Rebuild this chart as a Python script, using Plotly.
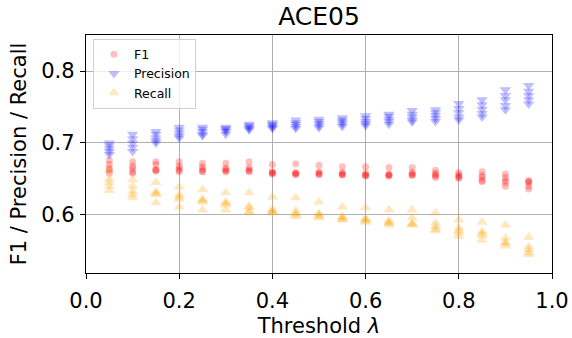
import plotly.graph_objects as go

thresholds = [0.05, 0.10, 0.15, 0.20, 0.25, 0.30, 0.35, 0.40, 0.45, 0.50,
              0.55, 0.60, 0.65, 0.70, 0.75, 0.80, 0.85, 0.90, 0.95]

# five runs per threshold
f1_runs = [
    [0.676, 0.670, 0.665, 0.662, 0.658],
    [0.674, 0.668, 0.665, 0.660, 0.658],
    [0.674, 0.670, 0.663, 0.662, 0.661],
    [0.674, 0.668, 0.665, 0.662, 0.660],
    [0.672, 0.667, 0.664, 0.661, 0.660],
    [0.672, 0.665, 0.663, 0.661, 0.660],
    [0.674, 0.666, 0.663, 0.661, 0.660],
    [0.670, 0.660, 0.659, 0.658, 0.657],
    [0.671, 0.659, 0.658, 0.657, 0.656],
    [0.669, 0.660, 0.658, 0.657, 0.656],
    [0.667, 0.659, 0.657, 0.656, 0.656],
    [0.667, 0.658, 0.656, 0.655, 0.654],
    [0.666, 0.657, 0.656, 0.655, 0.654],
    [0.666, 0.659, 0.657, 0.656, 0.655],
    [0.662, 0.658, 0.656, 0.654, 0.652],
    [0.659, 0.656, 0.654, 0.652, 0.651],
    [0.660, 0.655, 0.652, 0.648, 0.646],
    [0.657, 0.652, 0.648, 0.645, 0.640],
    [0.648, 0.646, 0.645, 0.640, 0.636],
]

precision_runs = [
    [0.700, 0.696, 0.692, 0.688, 0.684],
    [0.712, 0.706, 0.700, 0.694, 0.688],
    [0.716, 0.712, 0.707, 0.703, 0.700],
    [0.722, 0.718, 0.714, 0.710, 0.707],
    [0.722, 0.719, 0.716, 0.712, 0.710],
    [0.722, 0.720, 0.718, 0.716, 0.712],
    [0.726, 0.724, 0.722, 0.720, 0.718],
    [0.728, 0.726, 0.724, 0.722, 0.720],
    [0.732, 0.728, 0.726, 0.723, 0.720],
    [0.733, 0.730, 0.727, 0.724, 0.721],
    [0.735, 0.732, 0.729, 0.726, 0.723],
    [0.738, 0.734, 0.730, 0.727, 0.724],
    [0.740, 0.737, 0.733, 0.730, 0.726],
    [0.745, 0.740, 0.736, 0.732, 0.729],
    [0.746, 0.742, 0.738, 0.734, 0.730],
    [0.755, 0.748, 0.742, 0.736, 0.732],
    [0.760, 0.753, 0.747, 0.741, 0.736],
    [0.774, 0.766, 0.760, 0.752, 0.746],
    [0.780, 0.772, 0.766, 0.760, 0.754],
]

recall_runs = [
    [0.662, 0.650, 0.645, 0.640, 0.634],
    [0.649, 0.640, 0.633, 0.628, 0.624],
    [0.645, 0.632, 0.630, 0.628, 0.617],
    [0.639, 0.628, 0.625, 0.622, 0.611],
    [0.635, 0.622, 0.620, 0.618, 0.607],
    [0.631, 0.618, 0.616, 0.614, 0.607],
    [0.631, 0.612, 0.610, 0.605, 0.603],
    [0.625, 0.608, 0.605, 0.604, 0.603],
    [0.624, 0.606, 0.602, 0.600, 0.598],
    [0.618, 0.602, 0.600, 0.598, 0.596],
    [0.611, 0.598, 0.596, 0.594, 0.593],
    [0.610, 0.595, 0.593, 0.592, 0.590],
    [0.607, 0.592, 0.590, 0.588, 0.586],
    [0.607, 0.596, 0.588, 0.587, 0.586],
    [0.603, 0.589, 0.584, 0.580, 0.578],
    [0.593, 0.582, 0.578, 0.575, 0.570],
    [0.590, 0.577, 0.574, 0.571, 0.565],
    [0.586, 0.568, 0.562, 0.560, 0.557],
    [0.569, 0.556, 0.552, 0.548, 0.545],
]

x_ticks = [0.0, 0.2, 0.4, 0.6, 0.8, 1.0]
y_ticks = [0.6, 0.7, 0.8]


def flatten(runs):
    xs, ys = [], []
    for t, vals in zip(thresholds, runs):
        for v in vals:
            xs.append(t)
            ys.append(v)
    return xs, ys


fig = go.Figure()
series = [
    ("F1", f1_runs, "circle", "red", 7),
    ("Precision", precision_runs, "triangle-down", "blue", 10),
    ("Recall", recall_runs, "triangle-up", "orange", 10),
]
for name, runs, sym, col, sz in series:
    xs, ys = flatten(runs)
    fig.add_trace(go.Scatter(
        x=xs, y=ys, mode="markers", name=name,
        marker=dict(symbol=sym, color=col, size=sz, opacity=0.25,
                    line=dict(width=0)),
    ))

axis_common = dict(
    showline=True, linecolor="black", linewidth=1.3, mirror=True,
    showgrid=True, gridcolor="#b0b0b0", gridwidth=1.3,
    ticks="outside", ticklen=5, tickcolor="black", tickwidth=1.1,
    zeroline=False, automargin=False,
    tickfont=dict(size=21, color="black"),
)

H = 338
fig.update_layout(
    width=572, height=H,
    margin=dict(l=86, r=20, t=35, b=65),
    paper_bgcolor="white", plot_bgcolor="white",
    font=dict(family="DejaVu Sans", color="black"),
    title=dict(text="ACE05", xref="paper", x=0.5, xanchor="center",
               yref="container", y=1 - 16 / H, yanchor="middle",
               font=dict(size=25)),
    xaxis=dict(range=[0, 1.0], tickvals=x_ticks,
               ticktext=[f"{v:.1f}" for v in x_ticks],
               ticklabelstandoff=4,
               title=dict(text="Threshold <i>λ</i>", font=dict(size=21), standoff=7),
               **axis_common),
    yaxis=dict(range=[0.5194, 0.85], tickvals=y_ticks,
               ticktext=[f"{v:.1f}" for v in y_ticks],
               ticklabelstandoff=1,
               title=dict(text="F1 / Precision / Recall", font=dict(size=21), standoff=8),
               **axis_common),
    legend=dict(x=0.015, y=0.985, xanchor="left", yanchor="top",
                bgcolor="rgba(255,255,255,0.8)", bordercolor="#d0d0d0",
                borderwidth=1, font=dict(size=12.5),
                itemsizing="trace", tracegroupgap=0),
    showlegend=True,
)

fig.write_html("out.html", config={"displayModeBar": False},
               post_script="document.body.style.margin='0px';")
